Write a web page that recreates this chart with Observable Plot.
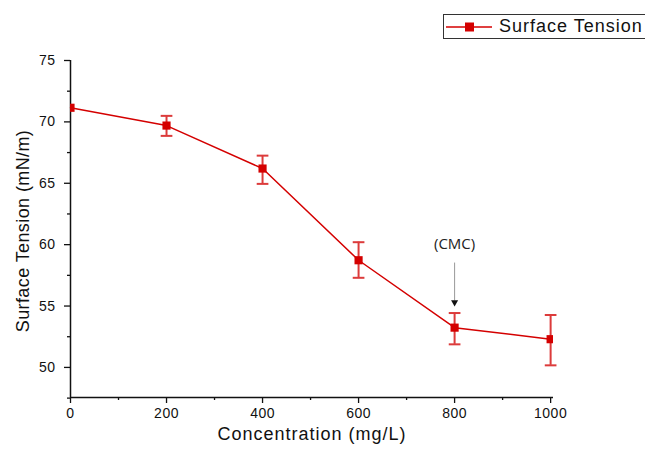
<!DOCTYPE html>
<html>
<head>
<meta charset="utf-8">
<script src="https://cdn.jsdelivr.net/npm/d3@7"></script>
<script src="https://cdn.jsdelivr.net/npm/@observablehq/plot@0.6"></script>
<style>
  html, body { margin: 0; padding: 0; background: #fff; }
  #wrap { position: relative; width: 645px; height: 450px; overflow: hidden; }
  #legend { position: absolute; left: 443px; top: 14px; width: 220px; height: 25px;
    border: 1.5px solid #333; box-sizing: border-box; display: flex; align-items: center;
    font-family: "Liberation Sans", Arial, sans-serif; font-size: 18px; letter-spacing: 1px; color: #111; background: #fff; }
  #legend svg { margin-left: 2px; margin-right: 7px; }
</style>
</head>
<body>
<div id="wrap"></div>
<script>
const concentration = [0, 200, 400, 600, 800, 1000];
const tension = [71.15, 69.7, 66.2, 58.73, 53.24, 52.3];
const errLow = [71.15, 68.86, 64.95, 57.3, 51.88, 50.17];
const errHigh = [71.15, 70.49, 67.25, 60.2, 54.43, 54.27];
const xTicks = [0, 200, 400, 600, 800, 1000];
const xMinor = [100, 300, 500, 700, 900];
const yTicks = [50, 55, 60, 65, 70, 75];
const yMinor = [47.5, 52.5, 57.5, 62.5, 67.5, 72.5];
const seriesName = "Surface Tension";
const yTitle = "Surface Tension (mN/m)";
const xTitle = "Concentration (mg/L)";
const cmcLabel = "(CMC)";
const cmcX = 800;

const data = concentration.map((c, i) => ({x: c, y: tension[i], lo: errLow[i], hi: errHigh[i]}));
const red = "#d40000";
const errRed = "#dc3b3b";
const hline = { draw(ctx, size) { const w = Math.sqrt(size); ctx.moveTo(-w, 0); ctx.lineTo(w, 0); } };
const withErr = data.filter(d => d.hi > d.lo);

const chart = Plot.plot({
  width: 645, height: 450,
  marginLeft: 70, marginRight: 92, marginTop: 60, marginBottom: 53,
  style: { fontFamily: "'Liberation Sans', Arial, sans-serif", fontSize: "14px", color: "#111", background: "#fff" },
  x: { domain: [0, 1006] },
  y: { domain: [47.55, 75] },
  marks: [
    Plot.axisX({ ticks: xTicks, tickFormat: d => String(d), tickSize: 6, tickPadding: 5, fontSize: 14, label: null, strokeWidth: 1.3 }),
    Plot.axisX({ ticks: xMinor, tickSize: 3, text: null, label: null, strokeWidth: 1.3 }),
    Plot.axisY({ ticks: yTicks, tickSize: 6, tickPadding: 9, fontSize: 14, label: null, strokeWidth: 1.3 }),
    Plot.axisY({ ticks: yMinor, tickSize: 3, text: null, label: null, strokeWidth: 1.3 }),
    Plot.ruleX([0], { stroke: "#111", strokeWidth: 1.5 }),
    Plot.ruleY([47.55], { stroke: "#111", strokeWidth: 1.5 }),
    Plot.text([yTitle], { frameAnchor: "left", textAnchor: "middle", dx: -47, dy: 2, rotate: -90, fontSize: 18, fill: "#111" }),
    Plot.text([xTitle], { frameAnchor: "bottom", dy: 42, fontSize: 18, fill: "#111" }),
    Plot.ruleX(withErr, { x: "x", y1: "lo", y2: "hi", stroke: errRed, strokeWidth: 2 }),
    Plot.dot(withErr, { x: "x", y: "lo", symbol: hline, r: 3.3, stroke: errRed, strokeWidth: 2 }),
    Plot.dot(withErr, { x: "x", y: "hi", symbol: hline, r: 3.3, stroke: errRed, strokeWidth: 2 }),
    Plot.line(data, { x: "x", y: "y", stroke: red, strokeWidth: 1.5 }),
    Plot.dot(data, { x: "x", y: "y", symbol: "square", r: 4.6, fill: red, stroke: "none", clip: true }),
    Plot.ruleX([cmcX], { y1: 58.5, y2: 55.4, stroke: "#999", strokeWidth: 1 }),
    Plot.dot([cmcX], { x: d => d, y: 55.3, symbol: "triangle", rotate: 180, r: 2.6, fill: "#111", stroke: "none" }),
    Plot.text([cmcLabel], { x: cmcX, y: 60.0, fontSize: 15, fill: "#222", fontFamily: "'Open Sans', 'Noto Sans', sans-serif" })
  ]
});

// horizontal widening of the Arial-like text to match the reference
const svg = d3.select(chart);
svg.selectAll('g[aria-label="x-axis tick label"] text, g[aria-label="y-axis tick label"] text').style("letter-spacing", "0.5px");
svg.selectAll("text").filter(function () { return this.textContent === xTitle; }).style("letter-spacing", "1px");
svg.selectAll("text").filter(function () { return this.textContent === yTitle; }).style("letter-spacing", "0.4px");

const wrap = document.getElementById("wrap");
wrap.appendChild(chart);
const legend = document.createElement("div");
legend.id = "legend";
legend.innerHTML = `<svg width="46" height="14"><line x1="0" y1="7" x2="46" y2="7" stroke="${red}" stroke-width="1.5"/><rect x="19" y="2.5" width="9" height="9" fill="${red}"/></svg><span></span>`;
legend.querySelector("span").textContent = seriesName;
wrap.appendChild(legend);
</script>
</body>
</html>
